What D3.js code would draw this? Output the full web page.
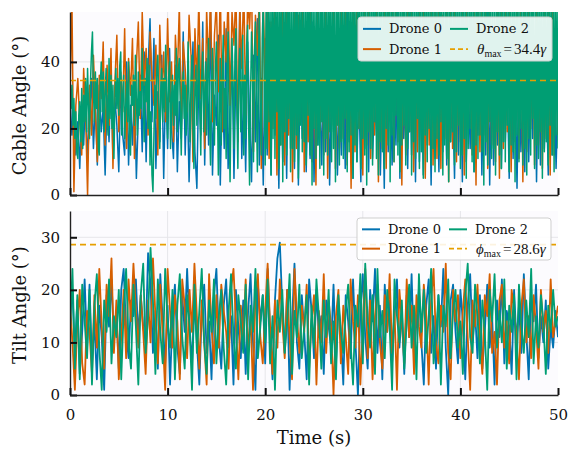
<!DOCTYPE html>
<html>
<head>
<meta charset="utf-8">
<script src="https://cdn.jsdelivr.net/npm/d3@7"></script>
<style>
  html, body { margin: 0; padding: 0; background: #ffffff; }
  svg { display: block; }
  text { font-family: "DejaVu Serif", serif; fill: #111; }
  text.math { font-family: "Liberation Serif", serif; }
</style>
</head>
<body>
<svg id="chart" width="575" height="449"></svg>
<script>
// ---- data -------------------------------------------------------------
// Cable angle (deg). Drone 2 sampled every 0.1 s, drones 0 and 1 every 0.2 s.
const cableStepFine = 0.1;
const cableStep = 0.2;
const cableDrone0 = [
  29,18,25,12,22,8,27,15,31,10,
  24,35,14,28,9,33,19,26,6,30,
  16,37,11,29,21,7,34,18,12,40,
  9,27,15,32,5,24,36,13,43,10,
  38,53,22,47,8,31,16,42,5,35,
  14,44,20,11,39,7,28,17,49,12,
  33,4,26,46,13,2,37,18,52,9,
  41,15,55,6,30,21,48,3,36,14,
  50,8,27,44,5,39,19,57,11,32,
  7,46,23,4,42,16,53,9,35,3,
  47,12,38,6,51,18,29,2,44,10,
  36,5,49,14,31,8,56,3,40,17,
  45,7,33,11,52,4,38,15,28,9,
  50,13,42,3,35,19,47,6,30,12,
  41,8,55,16,37,5,46,10,32,4,
  48,14,39,7,53,11,29,18,44,6,
  36,2,50,13,41,9,34,15,57,5,
  43,17,31,8,46,12,38,4,52,10,
  35,6,49,15,40,3,45,11,33,7,
  54,13,37,9,42,16,30,5,48,12,
  39,4,51,10,36,14,47,7,34,18,
  45,6,38,12,55,3,41,9,32,15,
  50,8,43,16,35,5,47,11,39,2,
  44,13,30,7,53,10,37,17,46,4,
  40,9,49,14,33,6,45,12,38,8,
  30
];
const cableDrone1 = [
  31,58,1,27,35,22,12,38,24,0,
  33,18,42,26,10,36,29,46,15,39,
  21,44,8,34,48,19,37,25,50,14,
  41,30,47,11,39,52,23,55,33,44,
  18,49,36,27,45,12,51,31,43,22,
  53,28,40,16,48,35,57,20,46,38,
  25,54,42,10,50,33,59,29,47,14,
  56,37,61,22,48,58,31,63,19,52,
  40,60,27,55,45,62,16,57,38,64,
  24,59,50,66,13,54,42,61,8,58,
  35,63,11,52,20,60,6,48,15,57,
  9,62,18,45,4,59,14,54,22,61,
  7,50,16,64,10,47,3,58,19,55,
  12,60,5,53,21,63,8,49,14,56,
  17,61,9,51,2,58,13,65,20,52,
  6,57,15,62,11,48,18,60,4,54,
  14,63,8,56,22,59,10,66,16,50,
  3,61,12,55,19,64,7,52,13,58,
  20,62,5,49,15,60,9,57,11,63,
  8,54,17,61,4,56,14,65,10,53,
  16,59,6,62,21,51,12,58,3,64,
  13,55,18,60,8,63,15,50,10,57,
  5,61,14,56,19,64,7,53,16,59,
  11,62,4,58,13,55,20,60,9,66,
  15,52,8,61,17,57,6,63,12,49,
  18
];
const cableDrone2 = [
  30,26,33,21,29,17,25,13,11,24,
  28,16,32,14,30,22,35,19,38,27,
  17,34,43,49,31,22,37,26,35,14,
  12,33,40,25,37,19,30,38,24,18,
  41,23,36,20,33,11,28,38,26,35,
  24,39,43,18,30,36,17,26,34,22,
  40,15,12,33,27,36,21,42,29,18,
  37,24,31,26,44,30,16,35,28,41,
  20,39,9,25,6,1,18,33,23,38,
  42,27,14,31,38,22,35,25,45,31,
  17,35,40,14,29,36,21,33,24,44,
  19,38,41,27,12,30,37,23,33,18,
  25,46,28,16,35,42,20,8,31,39,
  21,34,45,26,12,36,43,19,30,40,
  18,37,47,22,9,33,44,27,15,38,
  46,29,6,24,41,15,35,48,20,32,
  11,39,49,23,4,28,47,34,14,42,
  50,26,8,37,44,19,31,48,12,36,
  17,45,51,22,3,30,49,38,10,43,
  52,28,7,40,56,24,12,47,58,33,
  9,60,14,63,22,58,6,66,17,61,
  11,64,25,59,8,67,15,62,4,58,
  19,65,12,60,23,68,7,57,14,63,
  10,61,18,66,5,59,21,64,13,58,
  16,62,9,67,24,60,12,65,3,61,
  20,58,11,64,15,59,8,66,22,62,
  6,63,17,57,12,68,19,60,10,65,
  14,59,4,62,21,66,9,58,16,64,
  11,61,23,57,7,67,13,60,18,63,
  5,65,15,58,10,62,20,66,8,59,
  17,64,12,60,3,63,19,57,14,68,
  9,61,22,65,11,59,6,62,16,66,
  13,58,8,64,20,60,15,67,4,61,
  18,63,10,57,24,66,12,59,7,64,
  15,60,21,65,9,58,14,62,19,67,
  6,61,16,59,11,64,23,60,8,66,
  13,57,5,63,18,62,10,65,20,58,
  9,66,14,60,7,64,17,59,12,62,
  22,65,6,58,15,61,11,67,4,60,
  16,63,19,57,9,64,13,62,21,59,
  8,66,12,60,17,63,5,58,14,65,
  20,61,10,64,7,59,15,67,11,62,
  18,58,13,65,3,60,16,63,9,66,
  22,59,11,62,14,57,6,64,19,61,
  12,67,8,60,16,63,10,58,21,65,
  7,62,15,59,13,66,4,61,18,64,
  10,57,20,63,9,60,14,65,6,62,
  17,59,12,66,23,61,8,58,15,64,
  11,63,19,60,5,67,13,59,16,62,
  9,65,21,58,12,61,7,64,18,60,
  14
];

// Tilt angle (deg), sampled every 0.25 s.
const tiltStep = 0.25;
const tiltDrone0 = [
  15,20,8,18,4,12,22,9,
  21,6,14,3,17,11,1,19,
  13,22,10,16,5,20,24,12,
  7,18,15,22,11,19,13,10,
  27,21,8,16,5,23,14,6,
  17,2,15,21,9,4,19,12,
  24,13,6,18,10,2,16,21,
  8,14,3,19,24,11,5,17,
  22,9,15,2,20,13,7,18,
  4,16,23,10,1,21,14,19,
  6,24,12,3,18,26,29,17,
  8,20,1,14,25,10,5,19,
  12,3,22,16,7,20,11,15,
  4,18,13,9,21,6,17,12,
  2,19,14,7,22,10,0,16,
  23,11,5,20,14,24,8,17,
  3,21,12,18,6,15,22,9,
  16,4,19,11,23,7,14,20,
  10,2,17,22,8,15,5,19,
  13,24,9,0,18,21,12,6,
  20,14,3,17,23,10,16,7,
  19,5,12,21,9,15,2,18,
  11,22,6,16,13,4,20,10,
  17,8,23,12,3,19,14,21,
  7,15,10,18,5,13,9,16,
  11
];
const tiltDrone1 = [
  18,10,1,14,20,6,2,16,
  12,4,19,9,24,13,5,21,
  15,26,8,18,3,11,20,7,
  22,14,25,16,9,19,12,4,
  18,10,26,15,6,21,11,1,
  24,16,9,19,14,3,22,17,
  7,20,12,25,15,5,18,10,
  2,23,13,6,19,9,21,16,
  12,5,20,24,14,3,17,10,
  22,8,15,1,19,23,11,6,
  16,25,13,4,18,9,22,14,
  7,20,11,3,24,15,8,17,
  12,21,5,14,19,2,16,10,
  23,8,18,13,0,15,20,6,
  17,11,4,22,14,9,19,2,
  13,24,7,18,3,15,21,10,
  5,19,12,23,8,16,1,20,
  14,6,22,11,17,4,19,13,
  9,21,15,2,18,24,10,6,
  17,12,25,8,3,20,14,19,
  7,16,22,11,1,18,13,21,
  10,4,19,15,23,8,12,2,
  18,21,9,14,6,20,16,11,
  3,17,22,10,15,7,19,13,
  5,20,12,16,8,22,11,14,
  17
];
const tiltDrone2 = [
  12,24,5,19,3,21,14,7,
  20,2,17,23,9,1,18,12,
  22,6,15,11,20,3,16,24,
  10,5,21,13,2,19,25,8,
  15,28,18,4,22,12,6,24,
  14,9,20,3,17,23,11,5,
  19,13,1,21,8,16,24,10,
  4,18,12,22,6,15,20,9,
  2,16,23,11,5,19,14,8,
  21,3,17,12,24,7,13,19,
  10,22,6,15,1,18,12,20,
  8,14,23,4,16,11,21,7,
  13,19,2,17,9,22,15,5,
  18,11,20,6,14,3,19,12,
  8,16,21,10,2,17,13,23,
  6,25,14,9,19,4,24,11,
  16,7,20,13,1,22,15,10,
  18,5,14,21,9,17,3,23,
  12,20,8,15,24,6,11,19,
  2,17,13,22,7,16,20,9,
  14,4,19,25,11,8,21,15,
  6,18,12,1,20,14,23,9,
  16,10,22,5,17,12,19,3,
  21,13,8,18,11,24,6,15,
  9,19,14,4,17,12,20,13,
  15
];

const thetaMax = 34.4;   // cable limit
const phiMax = 28.6;     // tilt limit
const timeTicks = [0, 10, 20, 30, 40, 50];
const cableTicks = [0, 20, 40];
const tiltTicks = [0, 10, 20, 30];
const droneNames = ["Drone 0", "Drone 1", "Drone 2"];
const droneColors = ["#0072B2", "#D55E00", "#009E73"];
const limitColor = "#E69F00";

// ---- layout -----------------------------------------------------------
const svg = d3.select("#chart");
const left = 70, right = 558;
const x = d3.scaleLinear().domain([0, 50]).range([left, right]);

const panels = [
  {
    id: "cable", top: 12, bottom: 195, ymax: 55, ticks: cableTicks,
    label: "Cable Angle (°)", limit: thetaMax, sym: "θ", lw: 1.5,
    series: [
      { values: cableDrone0, step: cableStep },
      { values: cableDrone1, step: cableStep },
      { values: cableDrone2, step: cableStepFine }
    ],
    legend: { x: 358, y: 17, w: 194, h: 44 }
  },
  {
    id: "tilt", top: 211, bottom: 395, ymax: 35, ticks: tiltTicks,
    label: "Tilt Angle (°)", limit: phiMax, sym: "ϕ", lw: 1.8,
    series: [
      { values: tiltDrone0, step: tiltStep },
      { values: tiltDrone1, step: tiltStep },
      { values: tiltDrone2, step: tiltStep }
    ],
    legend: { x: 357, y: 218, w: 194, h: 42 }
  }
];

panels.forEach((p, pi) => {
  const y = d3.scaleLinear().domain([0, p.ymax]).range([p.bottom, p.top]);
  const g = svg.append("g");

  // plot background
  g.append("rect")
    .attr("x", left).attr("y", p.top)
    .attr("width", right - left).attr("height", p.bottom - p.top)
    .attr("fill", "#fcfbfe");

  // grid
  g.selectAll(".vg").data(timeTicks.slice(1, -1)).join("line")
    .attr("x1", d => x(d)).attr("x2", d => x(d))
    .attr("y1", p.top).attr("y2", p.bottom)
    .attr("stroke", "#e6e6ea").attr("stroke-width", 1);
  g.selectAll(".hg").data(p.ticks.slice(1)).join("line")
    .attr("x1", left).attr("x2", right)
    .attr("y1", d => y(d)).attr("y2", d => y(d))
    .attr("stroke", "#e6e6ea").attr("stroke-width", 1);

  // clip
  const clipId = "clip-" + p.id;
  svg.append("clipPath").attr("id", clipId)
    .append("rect")
    .attr("x", left).attr("y", p.top)
    .attr("width", right - left).attr("height", p.bottom - p.top);

  const plot = g.append("g").attr("clip-path", `url(#${clipId})`);

  p.series.forEach((s, i) => {
    const line = d3.line()
      .x((d, k) => x(k * s.step))
      .y(d => y(d));
    plot.append("path")
      .datum(s.values)
      .attr("fill", "none")
      .attr("stroke", droneColors[i])
      .attr("stroke-width", p.lw)
      .attr("stroke-linejoin", "round")
      .attr("d", line);
  });

  // limit line
  plot.append("line")
    .attr("x1", left).attr("x2", right)
    .attr("y1", y(p.limit)).attr("y2", y(p.limit))
    .attr("stroke", limitColor).attr("stroke-width", 1.6)
    .attr("stroke-dasharray", "6,4");

  // axes
  const yAxis = d3.axisLeft(y).tickValues(p.ticks).tickSizeInner(-7).tickSizeOuter(0).tickPadding(10);
  const ya = g.append("g").attr("transform", `translate(${left},0)`).call(yAxis);
  const xAxis = d3.axisBottom(x).tickValues(timeTicks).tickSizeInner(-7).tickSizeOuter(0).tickPadding(14);
  const xa = g.append("g").attr("transform", `translate(0,${p.bottom})`).call(xAxis);
  [ya, xa].forEach(a => {
    a.select(".domain").attr("stroke", "#222").attr("stroke-width", 1.4);
    a.selectAll(".tick line").attr("stroke", "#111").attr("stroke-width", 2);
    a.selectAll(".tick text")
      .attr("font-size", 15).attr("fill", "#111");
  });
  if (pi === 0) xa.selectAll(".tick text").remove();

  // y label
  g.append("text")
    .attr("transform", `translate(26,${(p.top + p.bottom) / 2 + 2}) rotate(-90)`)
    .attr("text-anchor", "middle")
    .attr("font-size", 18)
    .text(p.label);

  // legend
  const L = p.legend;
  const lg = g.append("g");
  lg.append("rect")
    .attr("x", L.x).attr("y", L.y).attr("width", L.w).attr("height", L.h)
    .attr("rx", 3).attr("fill", "#ffffff").attr("fill-opacity", 0.88)
    .attr("stroke", "#cfcfcf").attr("stroke-width", 1);
  const row1 = L.y + L.h * 0.27, row2 = L.y + L.h * 0.73;
  const entries = [
    { col: 0, row: row1, color: droneColors[0], text: droneNames[0] },
    { col: 0, row: row2, color: droneColors[1], text: droneNames[1] },
    { col: 1, row: row1, color: droneColors[2], text: droneNames[2] }
  ];
  const colX = [L.x + 5, L.x + 92];
  entries.forEach(e => {
    lg.append("line")
      .attr("x1", colX[e.col]).attr("x2", colX[e.col] + 18)
      .attr("y1", e.row).attr("y2", e.row)
      .attr("stroke", e.color).attr("stroke-width", 2);
    lg.append("text")
      .attr("x", colX[e.col] + 26).attr("y", e.row + 4.5)
      .attr("font-size", 13).text(e.text);
  });
  lg.append("line")
    .attr("x1", colX[1]).attr("x2", colX[1] + 18)
    .attr("y1", row2).attr("y2", row2)
    .attr("stroke", limitColor).attr("stroke-width", 1.8)
    .attr("stroke-dasharray", "5,3");
  // limit label in math style: symbol_max = value γ
  const lt = lg.append("text")
    .attr("class", "math")
    .attr("x", colX[1] + 27).attr("y", row2 + 5)
    .attr("font-size", 15);
  lt.append("tspan").attr("font-style", "italic").text(p.sym);
  lt.append("tspan").attr("font-size", 10).attr("dy", 3).text("max");
  lt.append("tspan").attr("dy", -3).attr("dx", 2).text("=");
  lt.append("tspan").attr("dx", 2).text(p.limit.toFixed(1));
  lt.append("tspan").attr("font-style", "italic").text("γ");
});

// x label
svg.append("text")
  .attr("x", (left + right) / 2).attr("y", 444)
  .attr("text-anchor", "middle")
  .attr("font-size", 18)
  .text("Time (s)");
</script>
</body>
</html>
